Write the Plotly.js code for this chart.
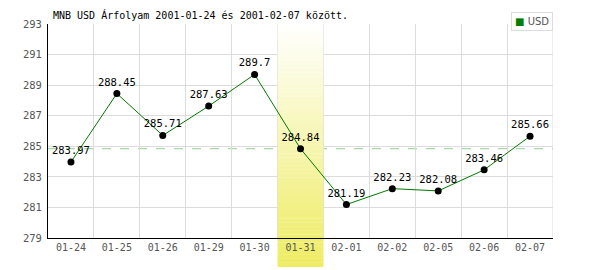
<!DOCTYPE html>
<html>
<head>
<meta charset="utf-8">
<script src="https://cdn.plot.ly/plotly-3.0.1.min.js"></script>
<style>html,body{margin:0;padding:0;background:#fff;}#chart{width:600px;height:270px;}</style>
</head>
<body>
<div id="chart"></div>
<script>
// ---- data ----
const titleText = 'MNB USD Árfolyam 2001-01-24 és 2001-02-07 között.';
const seriesName = 'USD';
const categories = ['01-24','01-25','01-26','01-29','01-30','01-31','02-01','02-02','02-05','02-06','02-07'];
const usdValues = [283.97, 288.45, 285.71, 287.63, 289.7, 284.84, 281.19, 282.23, 282.08, 283.46, 285.66];
const yTicks = [279, 281, 283, 285, 287, 289, 291, 293];
const highlightCategory = '01-31';

// ---- styling ----
const mono = 'DejaVu Sans Mono, Liberation Mono, monospace';
const hiIdx = categories.indexOf(highlightCategory);
const yMin = yTicks[0], yMax = yTicks[yTicks.length - 1];

// gradient band behind the highlighted day (white at top -> yellow at bottom)
const shapes = [];
const gradTop = [255, 255, 255], gradBot = [238, 236, 96];
const bandBottomPaper = -0.135; // band reaches below the axis
const nStrips = 60;
function mix(t) {
  return 'rgb(' + gradTop.map((c, k) => Math.round(c + (gradBot[k] - c) * t)).join(',') + ')';
}
// right border grid line
shapes.push({type: 'line', xref: 'x', x0: categories.length - 0.5, x1: categories.length - 0.5,
  yref: 'paper', y0: 0, y1: 1, layer: 'below', line: {color: '#dcdcdc', width: 1}});
// dashed reference line at the highlighted day's value
shapes.push({type: 'line', xref: 'paper', x0: 0, x1: 1, yref: 'y',
  y0: usdValues[hiIdx], y1: usdValues[hiIdx], layer: 'below',
  line: {color: '#8fd08f', width: 1, dash: 'dash'}});
for (let i = 0; i < nStrips; i++) {
  const p1 = 1 - (1 - bandBottomPaper) * i / nStrips;
  const p0 = 1 - (1 - bandBottomPaper) * (i + 1) / nStrips;
  const col = mix((i + 0.5) / nStrips);
  if (p0 >= 0) {
    shapes.push({type: 'rect', xref: 'x', yref: 'y', layer: 'between',
      x0: hiIdx - 0.5, x1: hiIdx + 0.5,
      y0: yMin + p0 * (yMax - yMin), y1: yMin + p1 * (yMax - yMin) + 0.01,
      fillcolor: col, line: {width: 0}});
  } else if (p1 <= 0) {
    shapes.push({type: 'rect', xref: 'x', yref: 'paper', layer: 'below',
      x0: hiIdx - 0.5, x1: hiIdx + 0.5, y0: p0, y1: p1 + 0.001,
      fillcolor: col, line: {width: 0}});
  } else {
    shapes.push({type: 'rect', xref: 'x', yref: 'y', layer: 'between',
      x0: hiIdx - 0.5, x1: hiIdx + 0.5, y0: yMin, y1: yMin + p1 * (yMax - yMin),
      fillcolor: col, line: {width: 0}});
    shapes.push({type: 'rect', xref: 'x', yref: 'paper', layer: 'below',
      x0: hiIdx - 0.5, x1: hiIdx + 0.5, y0: p0, y1: 0,
      fillcolor: col, line: {width: 0}});
  }
}

const traces = [{
  type: 'scatter',
  mode: 'lines+markers+text',
  name: seriesName,
  x: categories,
  y: usdValues,
  text: usdValues.map(v => String(v)),
  textposition: 'top center',
  textfont: {family: mono, size: 10.5, color: '#000'},
  line: {color: '#007a00', width: 1},
  marker: {color: '#000', size: 7},
  cliponaxis: false,
  showlegend: false
}];

const layout = {
  width: 600, height: 270,
  margin: {l: 48, r: 47, t: 24, b: 32},
  paper_bgcolor: '#fff',
  plot_bgcolor: '#fff',
  showlegend: false,
  title: {text: titleText, x: 53 / 600, xanchor: 'left', y: 1 - 15 / 270, yanchor: 'middle',
    font: {family: mono, size: 10, color: '#000'}},
  xaxis: {
    type: 'category', categoryorder: 'array', categoryarray: categories,
    range: [-0.5, categories.length - 0.5],
    tickson: 'boundaries', ticks: '', showgrid: true, gridcolor: '#dcdcdc', gridwidth: 1,
    showline: true, linecolor: '#000', linewidth: 1,
    tickfont: {family: mono, size: 10, color: '#555'},
    fixedrange: true, zeroline: false
  },
  yaxis: {
    range: [yMin, yMax], tickvals: yTicks, ticktext: yTicks.map(String),
    ticks: '', showgrid: true, gridcolor: '#dcdcdc', gridwidth: 1,
    showline: true, linecolor: '#000', linewidth: 1,
    tickfont: {family: mono, size: 10.5, color: '#555'},
    ticklabelstandoff: 3, zeroline: false, fixedrange: true
  },
  shapes: shapes,
  annotations: [{
    xref: 'paper', yref: 'paper', x: 1, y: 1 + 12 / 214, xanchor: 'right', yanchor: 'top',
    text: '<span style="color:#008000">■</span><span style="color:#555"> ' + seriesName + '</span>',
    showarrow: false, align: 'left',
    font: {family: 'DejaVu Sans, sans-serif', size: 10},
    bgcolor: '#fff', bordercolor: '#dcdcdc', borderwidth: 1, borderpad: 3
  }]
};

Plotly.newPlot('chart', traces, layout, {displayModeBar: false, staticPlot: true});
</script>
</body>
</html>
